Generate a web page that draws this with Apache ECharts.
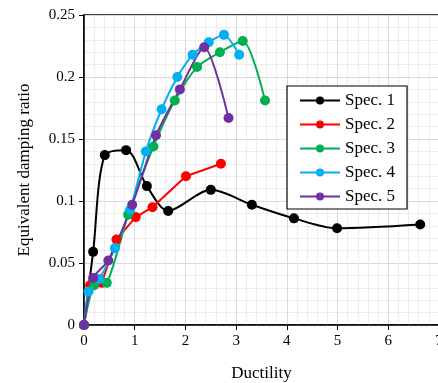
<!DOCTYPE html>
<html>
<head>
<meta charset="utf-8">
<script src="https://cdn.jsdelivr.net/npm/echarts@6/dist/echarts.min.js"></script>
<style>
  html, body { margin: 0; padding: 0; background: #fff; }
  #chart { width: 438px; height: 383px; }
</style>
</head>
<body>
<div id="chart"></div>
<script>
// ductility / damping ratio pairs
var spec1X = [0, 0.18, 0.41, 0.83, 1.24, 1.66, 2.50, 3.31, 4.14, 4.99, 6.63];
var spec1Y = [0, 0.059, 0.137, 0.141, 0.112, 0.092, 0.109, 0.097, 0.086, 0.078, 0.081];

var spec2X = [0, 0.12, 0.35, 0.64, 1.02, 1.35, 2.01, 2.70];
var spec2Y = [0, 0.032, 0.034, 0.069, 0.087, 0.095, 0.120, 0.130];

var spec3X = [0, 0.2, 0.45, 0.87, 1.37, 1.79, 2.23, 2.68, 3.13, 3.57];
var spec3Y = [0, 0.032, 0.034, 0.089, 0.144, 0.181, 0.208, 0.220, 0.229, 0.181];

var spec4X = [0, 0.09, 0.30, 0.61, 0.91, 1.22, 1.53, 1.84, 2.14, 2.46, 2.76, 3.06];
var spec4Y = [0, 0.027, 0.037, 0.062, 0.093, 0.140, 0.174, 0.200, 0.218, 0.228, 0.234, 0.218];

var spec5X = [0, 0.18, 0.48, 0.95, 1.42, 1.89, 2.37, 2.85];
var spec5Y = [0, 0.038, 0.052, 0.097, 0.153, 0.190, 0.224, 0.167];

var names = ['Spec. 1', 'Spec. 2', 'Spec. 3', 'Spec. 4', 'Spec. 5'];
var colors = ['#000000', '#ff0000', '#00b050', '#00b0f0', '#7030a0'];
var smoothing = [0.3, 0, 0.25, 0.2, 0.25];

function pairs(xs, ys) {
  return xs.map(function (x, i) { return [x, ys[i]]; });
}
var allX = [spec1X, spec2X, spec3X, spec4X, spec5X];
var allY = [spec1Y, spec2Y, spec3Y, spec4Y, spec5Y];

var font = "'Liberation Serif', 'Times New Roman', serif";

var chart = echarts.init(document.getElementById('chart'));
var option = {
  animation: false,
  backgroundColor: '#fff',
  color: colors,
  grid: {
    left: 84, top: 15, right: -1, bottom: 58,
    outerBoundsMode: 'none', containLabel: false,
    show: true, borderColor: '#000', borderWidth: 1.5
  },
  legend: {
    orient: 'vertical',
    left: 287, top: 86,
    itemWidth: 40, itemHeight: 10, itemGap: 7,
    backgroundColor: '#fff',
    borderColor: '#000', borderWidth: 1.2,
    padding: [6, 12, 4, 12],
    textStyle: { fontFamily: font, fontSize: 17, color: '#000' },
    data: names
  },
  xAxis: {
    type: 'value', min: 0, max: 7, interval: 1,
    name: 'Ductility', nameLocation: 'middle', nameGap: 40,
    nameTextStyle: { fontFamily: font, fontSize: 17, color: '#000' },
    axisLine: { lineStyle: { color: '#000', width: 1.5 } },
    axisTick: { show: true, length: 5, lineStyle: { color: '#000' } },
    axisLabel: { fontFamily: font, fontSize: 15, color: '#000', margin: 9 },
    splitLine: { lineStyle: { color: '#d9d9d9' } },
    minorTick: { show: false, splitNumber: 5 },
    minorSplitLine: { show: true, lineStyle: { color: '#ececec' } }
  },
  yAxis: {
    type: 'value', min: 0, max: 0.25, interval: 0.05,
    name: 'Equivalent damping ratio', nameLocation: 'middle', nameGap: 51,
    nameTextStyle: { fontFamily: font, fontSize: 17, color: '#000' },
    axisLine: { show: true, lineStyle: { color: '#000', width: 1.5 } },
    axisTick: { show: true, length: 5, lineStyle: { color: '#000' } },
    axisLabel: {
      fontFamily: font, fontSize: 15, color: '#000', margin: 9,
      formatter: function (v) { return String(+v.toFixed(2)); }
    },
    splitLine: { lineStyle: { color: '#d9d9d9' } },
    minorTick: { show: false, splitNumber: 5 },
    minorSplitLine: { show: true, lineStyle: { color: '#ececec' } }
  },
  series: names.map(function (n, i) {
    return {
      name: n, type: 'line', smooth: smoothing[i],
      symbol: 'circle', symbolSize: 10,
      lineStyle: { width: 2, color: colors[i] },
      itemStyle: { color: colors[i] },
      data: pairs(allX[i], allY[i])
    };
  })
};
chart.setOption(option);
</script>
</body>
</html>
